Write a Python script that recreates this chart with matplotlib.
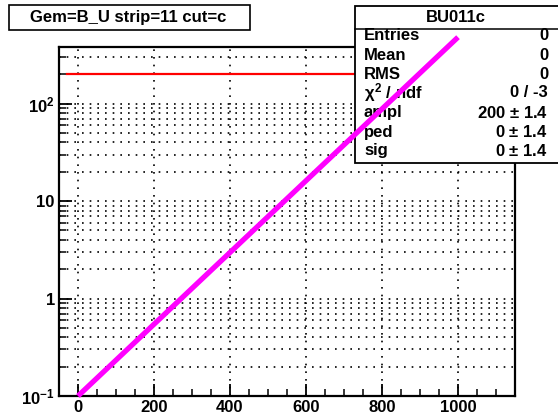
import matplotlib
matplotlib.use("Agg")
import matplotlib.pyplot as plt
from matplotlib.ticker import MultipleLocator, LogLocator, FixedLocator, FixedFormatter, NullFormatter
from matplotlib.patches import Rectangle

plt.rcParams['font.family'] = ['Liberation Sans', 'DejaVu Sans']
plt.rcParams['font.weight'] = 'bold'
plt.rcParams['mathtext.fontset'] = 'custom'
plt.rcParams['mathtext.rm'] = 'Liberation Sans:bold'
plt.rcParams['mathtext.it'] = 'Liberation Sans:bold'
plt.rcParams['mathtext.bf'] = 'Liberation Sans:bold'

# data
title = "Gem=B_U strip=11 cut=c"
hist_name = "BU011c"
fit_x = [0, 1000]
fit_y = [0.1, 480]
level_x = [-30, 1100]
level_y = [200, 200]
x_ticks = [0, 200, 400, 600, 800, 1000]
y_ticks = [0.1, 1, 10, 100]
y_tick_labels = [r'$10^{-1}$', '1', '10', r'$10^{2}$']
stat_names = ['Entries', 'Mean', 'RMS', r'$\chi^{2}$ / ndf', 'ampl', 'ped', 'sig']
stat_values = ['0', '0', '0', '0 / -3', r'200 $\pm$ 1.4', r'0 $\pm$ 1.4', r'0 $\pm$ 1.4']

W, H = 558, 416
fig = plt.figure(figsize=(W / 100, H / 100), dpi=100)


def fx(px):
    return px / W


def fy(py):
    return 1 - py / H


ax = fig.add_axes([fx(59), fy(396), fx(515) - fx(59), fy(47.3) - fy(396)])
ax.set_yscale('log')
ax.set_xlim(-50, 1150)
ax.set_ylim(0.1, 378)

# red constant line (under the stats box)
ax.plot(level_x, level_y, color='red', lw=1.6, zorder=3)
# magenta fit line, runs above the frame
ax.plot(fit_x, fit_y, color='#ff00ff', lw=3.8, solid_capstyle='butt', clip_on=False, zorder=10)

# grid
dots = (0, (1, 3.6))
ax.xaxis.set_major_locator(FixedLocator(x_ticks))
ax.xaxis.set_minor_locator(MultipleLocator(50))
ax.yaxis.set_major_locator(FixedLocator(y_ticks))
ax.yaxis.set_major_formatter(FixedFormatter(y_tick_labels))
ax.yaxis.set_minor_locator(LogLocator(base=10, subs=range(2, 10)))
ax.yaxis.set_minor_formatter(NullFormatter())
ax.grid(which='major', axis='x', color='k', ls=dots, lw=1.2)
ax.grid(which='both', axis='y', color='k', ls=dots, lw=1.2)
ax.set_axisbelow(True)

for s in ax.spines.values():
    s.set_linewidth(1.6)
ax.tick_params(which='major', direction='in', length=9, width=1.3, labelsize=12, pad=3)
ax.tick_params(which='minor', direction='in', length=5, width=1.1)
ax.tick_params(top=False, right=False, which='both')
for lab in ax.get_xticklabels() + ax.get_yticklabels():
    lab.set_fontweight('bold')

# title box
fig.text(fx(128), fy(17.5), title, ha='center', va='center', fontsize=12, fontweight='bold')
fig.patches.append(Rectangle((fx(8.5), fy(29.5)), fx(250) - fx(8.5), fy(5.5) - fy(29.5),
                             transform=fig.transFigure, fill=False, ec='black', lw=1.2))

# stats box, drawn inside the axes so the fit line stays on top
box = Rectangle((fx(355), fy(162.7)), fx(562) - fx(355), fy(6) - fy(162.7),
                transform=fig.transFigure, fc='white', ec='black', lw=1.3, clip_on=False, zorder=5)
ax.add_patch(box)
ax.plot([fx(355), fx(562)], [fy(29), fy(29)], transform=fig.transFigure, color='black',
        lw=1.1, clip_on=False, zorder=6)
ax.text(fx(456), fy(17.5), hist_name, transform=fig.transFigure, ha='center', va='center',
        fontsize=12, fontweight='bold', clip_on=False, zorder=6)
row_y = [36, 55.5, 74.5, 92.5, 113, 132, 151]
for name, val, yy in zip(stat_names, stat_values, row_y):
    ax.text(fx(364), fy(yy), name, transform=fig.transFigure, ha='left', va='center',
            fontsize=12, fontweight='bold', clip_on=False, zorder=6)
    ax.text(fx(548), fy(yy), val, transform=fig.transFigure, ha='right', va='center',
            fontsize=12, fontweight='bold', clip_on=False, zorder=6)

fig.savefig('out.png', dpi=100)
